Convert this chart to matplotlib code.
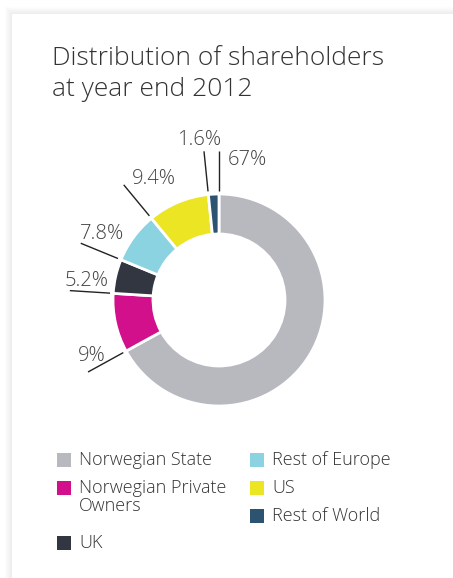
import matplotlib.pyplot as plt
import matplotlib.patches as mpatches
import numpy as np

# shareholder split, year end 2012
groups = ["Norwegian State", "Norwegian Private\nOwners", "UK",
          "Rest of Europe", "US", "Rest of World"]
shares = [67, 9, 5.2, 7.8, 9.4, 1.6]
share_labels = ["67%", "9%", "5.2%", "7.8%", "9.4%", "1.6%"]
colors = ["#b7b9bf", "#d3108c", "#313641", "#8bd3e0", "#ebe523", "#2c5470"]

W, H = 453, 578
plt.rcParams['font.family'] = ['Open Sans', 'DejaVu Sans']
fig = plt.figure(figsize=(W / 100, H / 100), dpi=100)

# background card with a soft shadow on the top and left edges
bg = fig.add_axes([0, 0, 1, 1])
bg.set_xlim(0, W)
bg.set_ylim(H, 0)
bg.axis("off")
for i in range(9):
    shade = 0.92 + 0.08 * i / 8
    bg.add_patch(mpatches.Rectangle((12 - i, 14 - i), W, H, color=str(shade), zorder=-10 - i, lw=0))
bg.add_patch(mpatches.Rectangle((12, 14), W, H, color="white", zorder=-1, lw=0))

bg.text(52, 74, "Distribution of shareholders\nat year end 2012", fontsize=19,
        fontweight="light", color="#333333", va="center", ha="left", linespacing=1.3)

# donut
cx, cy, R = 219, 300, 106
half = 160
L = half / R
ax = fig.add_axes([(cx - half) / W, (H - cy - half) / H, 2 * half / W, 2 * half / H])
wedges, _ = ax.pie(shares, colors=colors, startangle=90, counterclock=False,
                   radius=1, wedgeprops=dict(width=40 / R, edgecolor="white", linewidth=2))
ax.set_xlim(-L, L)
ax.set_ylim(-L, L)
ax.set_aspect("equal")
ax.axis("off")

# leader lines sit on the leading edge of each wedge
label_offsets = [(9, 9), (4, -16), (17, -10), (21, -9), (30, -6), (-5, -11)]
label_ha = ["left", "center", "center", "center", "center", "center"]
for w, lab, off, ha in zip(wedges, share_labels, label_offsets, label_ha):
    ang = np.deg2rad(w.theta2)
    r0, r1 = 1.03, 1.41
    x0, y0 = r0 * np.cos(ang), r0 * np.sin(ang)
    x1, y1 = r1 * np.cos(ang), r1 * np.sin(ang)
    ax.plot([x0, x1], [y0, y1], color="#222222", lw=1, solid_capstyle="butt")
    ax.annotate(lab, (x1, y1), xytext=(off[0], -off[1]), textcoords="offset pixels",
                ha=ha, va="center", fontsize=14.5, fontweight="light", color="#444444")

# legend in two columns
leg_x = [57, 57, 57, 250, 250, 250]
leg_y = [460, 488, 543, 460, 488, 516]
for name, col, lx, ly in zip(groups, colors, leg_x, leg_y):
    bg.add_patch(mpatches.Rectangle((lx, ly - 7), 14, 14, color=col, lw=0))
    n_lines = name.count("\n") + 1
    bg.text(lx + 22, ly + 9 * (n_lines - 1), name, fontsize=13, fontweight="light",
            color="#333333", va="center", ha="left", linespacing=1.05)

fig.savefig("out.png", dpi=100)
